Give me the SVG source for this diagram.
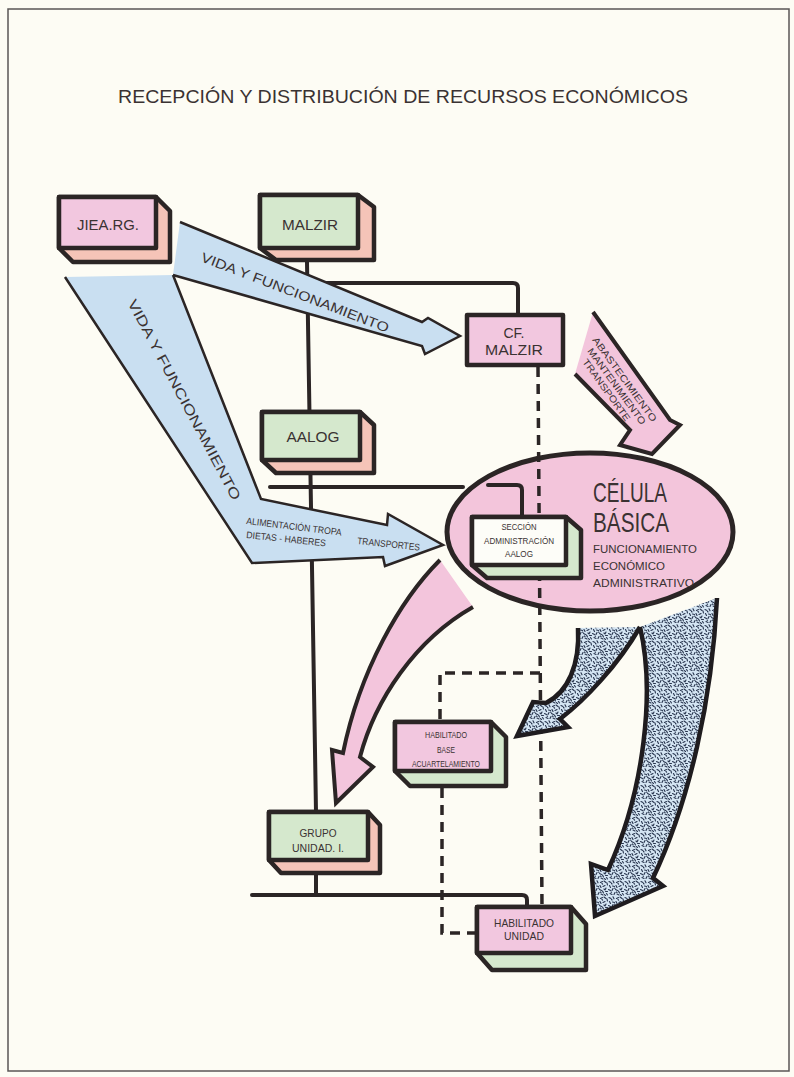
<svg xmlns="http://www.w3.org/2000/svg" width="794" height="1077" viewBox="0 0 794 1077">
  <defs>
    <style>
      .ln{fill:none;stroke:#2b2525;stroke-width:4;stroke-linecap:round;stroke-linejoin:round}
      .dash{fill:none;stroke:#2b2525;stroke-width:3.5;stroke-dasharray:10 7}
      .blue{fill:#c9dff1;stroke:#2b2525;stroke-width:2.5;stroke-linejoin:miter}
      .pinkA{fill:#f3c5dc;stroke:#2b2525;stroke-width:4;stroke-linejoin:miter}
      .stip{fill:url(#speckle);stroke:#1f1c1f;stroke-width:4.5;stroke-linejoin:miter}
      .box{stroke:#2b2525;stroke-width:4.5;stroke-linejoin:round}
      .pink{fill:#f2c7df}
      .green{fill:#d5e8cd}
      .salmon{fill:#f5c4b8}
      .white{fill:#fdfdf8}
      .t{font-family:'Liberation Sans',Arial,sans-serif;fill:#3a3232;text-anchor:middle}
      .s{font-family:'Liberation Sans',Arial,sans-serif;fill:#3a3232}
    </style>
    <!-- mottled fill for the distribution arrows -->
    <pattern id="speckle" width="16" height="16" patternUnits="userSpaceOnUse">
      <rect width="16" height="16" fill="#d4e5f3"/>
      <path d="M1,1.5l2,1 M5,0.8l1,2 M8.5,2.5l2,-1 M12,1l2,1.5 M15,3l0.5,2 M1.5,5.5l1,2 M4.5,6l2,0.5 M8,5.5l1,2 M11,6.5l2,-1 M14,8l-1,2 M0.5,9.5l2,1 M4,10.5l1,-2 M7.5,9.5l2,1 M10.5,11l1,2 M13.5,11.5l2,0 M2,13.5l2,1 M6,14.5l1,-2 M9,14l2,1 M12.5,14.5l1,1.2 M15.5,15l-1,-1.5 M3.5,3.5l0.5,0.5 M10,3.5l0.6,0.6 M6.5,8l0.5,0.4 M12,9l0.5,0.5 M3,12l0.5,0.3 M8.5,12l0.5,0.5" stroke="#2a3750" stroke-width="1.15" stroke-linecap="round" fill="none"/>
    </pattern>
  </defs>

  <!-- page -->
  <rect x="0" y="0" width="794" height="1077" fill="#fdfcf4"/>
  <rect x="8" y="9" width="781" height="1062" fill="none" stroke="#5a5656" stroke-width="1.5"/>
  <text class="s" x="118" y="103" font-size="18" textLength="570" lengthAdjust="spacingAndGlyphs">RECEPCIÓN Y DISTRIBUCIÓN DE RECURSOS ECONÓMICOS</text>

  <!-- central ellipse -->
  <g id="n-celula">
    <ellipse cx="590" cy="532" rx="143" ry="79" fill="#f3c5db" stroke="#2b2525" stroke-width="5"/>
    <text class="s" x="593" y="502" font-size="28" textLength="74" lengthAdjust="spacingAndGlyphs">CÉLULA</text>
    <text class="s" x="593" y="532" font-size="28" textLength="76" lengthAdjust="spacingAndGlyphs">BÁSICA</text>
    <text class="s" x="593" y="553" font-size="11.5" textLength="104" lengthAdjust="spacingAndGlyphs">FUNCIONAMIENTO</text>
    <text class="s" x="593" y="570" font-size="11.5" textLength="72" lengthAdjust="spacingAndGlyphs">ECONÓMICO</text>
    <text class="s" x="593" y="587" font-size="11.5" textLength="101" lengthAdjust="spacingAndGlyphs">ADMINISTRATIVO</text>
  </g>

  <!-- connectors -->
  <g id="connectors">
    <path class="ln" d="M307,262 L316,812"/>
    <path class="ln" d="M316,873 V895"/>
    <path class="ln" d="M308,283 H513 Q518,283 518,288 V315"/>
    <path class="ln" d="M270,487 H463"/>
    <path class="ln" d="M488,485 H517 Q522,485 522,490 V517"/>
    <path class="ln" d="M252,895 H522 Q527,895 527,900 V907"/>
    <path class="dash" d="M538,367 L542,907"/>
    <path class="dash" d="M540,673 H440 V722"/>
    <path class="dash" d="M442,788 V933 H477"/>

    <!-- flows -->
    <path class="blue" d="M180,222 L422,322 L428,318 L460,336 L425,354 L422,346 L173,275"/>
    <path class="blue" d="M173,275 L261,499 L387,525 L388,514 L443,545 L385,566 L383,557 L252,563 L65,277"/>
    <path class="pinkA" d="M593,312 L670,420 L680,425 L652,454 L620,445 L630,430 L575,374"/>
    <path class="pinkA" d="M440,560 C400,600 360,670 343,753 L332,750 L336,803 L373,767 L360,757 C375,700 415,640 473,607"/>
    <path class="stip" d="M578,628 C580,665 568,692 546,703 L533,702 L517,736 L568,727 L560,719 C585,700 618,665 640,627"/>
    <path class="stip" d="M640,627 C655,690 645,790 608,870 L591,864 L595,916 L663,886 L653,878 C690,800 712,700 717,598"/>

    <!-- flow labels -->
    <text class="s" font-size="13.5" textLength="200" lengthAdjust="spacingAndGlyphs" transform="translate(200,261) rotate(21)">VIDA Y FUNCIONAMIENTO</text>
    <text class="t" font-size="14" textLength="225" lengthAdjust="spacingAndGlyphs" transform="translate(180,402) rotate(62)">VIDA Y FUNCIONAMIENTO</text>
    <text class="s" font-size="9.5" textLength="96" lengthAdjust="spacingAndGlyphs" transform="translate(246,524) rotate(7)">ALIMENTACIÓN TROPA</text>
    <text class="s" font-size="9.5" textLength="80" lengthAdjust="spacingAndGlyphs" transform="translate(246,538) rotate(6)">DIETAS - HABERES</text>
    <text class="s" font-size="9.5" textLength="63" lengthAdjust="spacingAndGlyphs" transform="translate(357,544) rotate(6)">TRANSPORTES</text>
    <text class="s" font-size="9.5" textLength="102" lengthAdjust="spacingAndGlyphs" transform="translate(592,340) rotate(54)">ABASTECIMIENTO</text>
    <text class="s" font-size="9.5" textLength="92" lengthAdjust="spacingAndGlyphs" transform="translate(587,351) rotate(54)">MANTENIMIENTO</text>
    <text class="s" font-size="9.5" textLength="74" lengthAdjust="spacingAndGlyphs" transform="translate(582,362) rotate(54)">TRANSPORTE</text>
  </g>

  <!-- boxes -->
  <g id="n-jiea">
    <path class="box salmon" d="M59,197 H156 L170,211 V262 H73 L59,248 Z"/>
    <rect class="box pink" x="59" y="197" width="97" height="51"/>
    <text class="t" x="108" y="230" font-size="14" textLength="62" lengthAdjust="spacingAndGlyphs">JIEA.RG.</text>
  </g>

  <g id="n-malzir">
    <path class="box salmon" d="M260,195 H358 L374,207 V260 H276 L260,248 Z"/>
    <rect class="box green" x="260" y="195" width="98" height="53"/>
    <text class="t" x="310" y="230" font-size="14" textLength="56" lengthAdjust="spacingAndGlyphs">MALZIR</text>
  </g>

  <g id="n-cfmalzir">
    <rect class="box pink" x="467" y="315" width="96" height="50"/>
    <text class="t" x="514" y="338" font-size="14">CF.</text>
    <text class="t" x="514" y="355" font-size="14" textLength="58" lengthAdjust="spacingAndGlyphs">MALZIR</text>
  </g>

  <g id="n-aalog">
    <path class="box salmon" d="M262,412 H360 L374,425 V473 H276 L262,460 Z"/>
    <rect class="box green" x="262" y="412" width="98" height="48"/>
    <text class="t" x="313" y="442" font-size="14" textLength="53" lengthAdjust="spacingAndGlyphs">AALOG</text>
  </g>

  <g id="n-seccion">
    <path class="box green" d="M472,517 H566 L581,530 V578 H487 L472,565 Z"/>
    <rect class="box white" x="472" y="517" width="94" height="48"/>
    <text class="t" x="519" y="530" font-size="9.5" textLength="35" lengthAdjust="spacingAndGlyphs">SECCIÓN</text>
    <text class="t" x="519" y="544" font-size="9.5" textLength="70" lengthAdjust="spacingAndGlyphs">ADMINISTRACIÓN</text>
    <text class="t" x="519" y="557" font-size="9.5" textLength="28" lengthAdjust="spacingAndGlyphs">AALOG</text>
  </g>

  <g id="n-habbase">
    <path class="box green" d="M395,722 H491 L506,737 V786 H410 L395,771 Z"/>
    <rect class="box pink" x="395" y="722" width="96" height="49"/>
    <text class="t" x="446" y="738" font-size="9.5" textLength="42" lengthAdjust="spacingAndGlyphs">HABILITADO</text>
    <text class="t" x="446" y="753" font-size="9.5" textLength="18" lengthAdjust="spacingAndGlyphs">BASE</text>
    <text class="t" x="446" y="767" font-size="9.5" textLength="68" lengthAdjust="spacingAndGlyphs">ACUARTELAMIENTO</text>
  </g>

  <g id="n-grupo">
    <path class="box salmon" d="M269,812 H368 L380,825 V873 H281 L269,860 Z"/>
    <rect class="box green" x="269" y="812" width="99" height="48"/>
    <text class="t" x="318" y="837" font-size="11" textLength="37" lengthAdjust="spacingAndGlyphs">GRUPO</text>
    <text class="t" x="318" y="852" font-size="11" textLength="52" lengthAdjust="spacingAndGlyphs">UNIDAD. I.</text>
  </g>

  <g id="n-habunidad">
    <path class="box green" d="M477,907 H571 L586,924 V970 H492 L477,953 Z"/>
    <rect class="box pink" x="477" y="907" width="94" height="46"/>
    <text class="t" x="524" y="927" font-size="11" textLength="60" lengthAdjust="spacingAndGlyphs">HABILITADO</text>
    <text class="t" x="524" y="940" font-size="11" textLength="40" lengthAdjust="spacingAndGlyphs">UNIDAD</text>
  </g>
</svg>
